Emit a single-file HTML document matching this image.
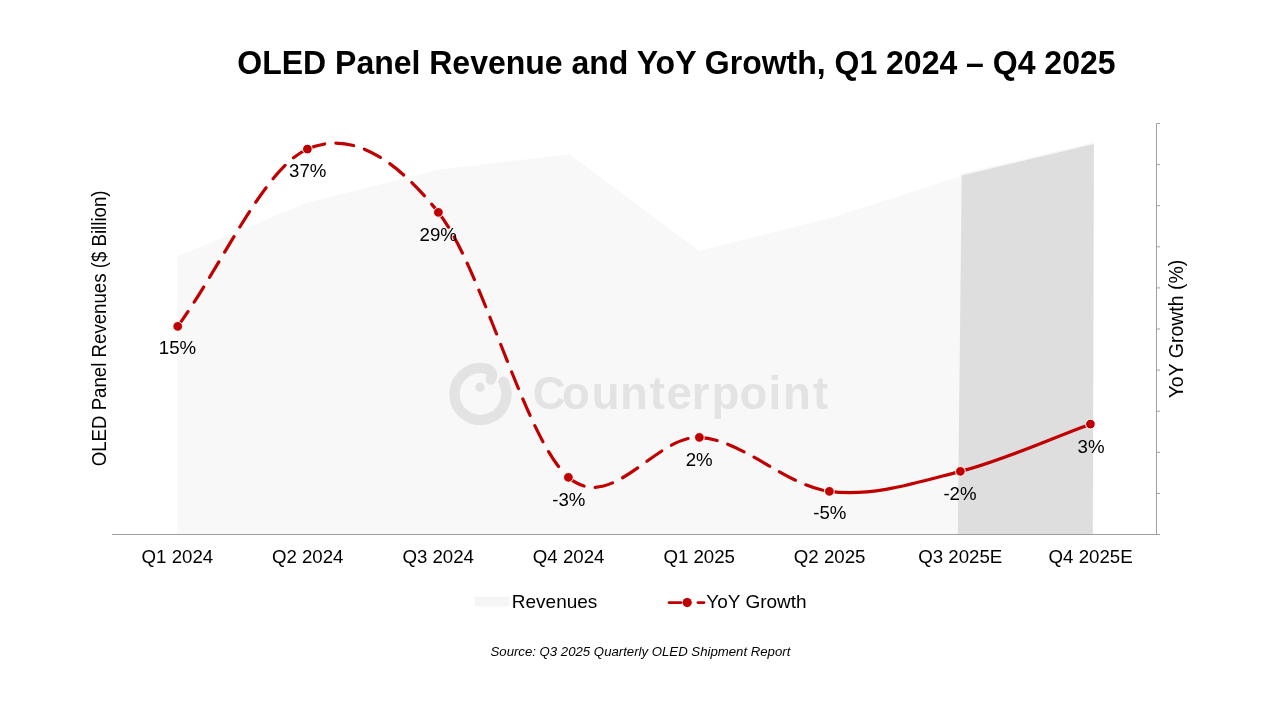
<!DOCTYPE html>
<html><head><meta charset="utf-8">
<style>
html,body{margin:0;padding:0;background:#fff;width:1280px;height:720px;overflow:hidden}
svg{display:block;will-change:transform}
text{font-family:"Liberation Sans",sans-serif;fill:#000}
</style></head>
<body>
<svg width="1280" height="720" viewBox="0 0 1280 720">
<!-- title -->
<text transform="translate(676.4,73.8) scale(1,1.052)" font-size="32" font-weight="bold" text-anchor="middle">OLED Panel Revenue and YoY Growth, Q1 2024 – Q4 2025</text>
<!-- revenue area -->
<polygon fill="#f8f8f8" points="177.2,534.5 177.2,256.5 307.5,202.5 437.5,170 569.2,154.3 699.5,251 829.4,218.5 959.8,176.6 960.6,173.6 1093.9,142.4 1092.8,534.5"/>
<polygon fill="#dedede" points="957.8,534.5 961.7,175.5 1093.9,144 1092.8,534.5"/>
<!-- watermark -->
<g>
<path d="M503.4,381.8 A26,26 0 1 1 484.9,368.4 Q495,371 490.8,379.5" fill="none" stroke="#e3e3e3" stroke-width="10.4" stroke-linecap="round"/>
<circle cx="479.9" cy="387.3" r="4.7" fill="#e3e3e3"/>
<text x="532.8 561.9 591.8 619.9 649.7 666.6 691.8 711.5 739.6 768.5 782.9 813" y="409.4" font-size="45.5" font-weight="bold" style="fill:#e3e3e3">Counterpoint</text>
</g>
<!-- axes -->
<line x1="112" y1="534.5" x2="1160" y2="534.5" stroke="#a0a0a0" stroke-width="1"/>
<line x1="1156.5" y1="123.5" x2="1156.5" y2="534.5" stroke="#a0a0a0" stroke-width="1"/>
<g stroke="#a0a0a0" stroke-width="1"><line x1="1156.5" y1="123.5" x2="1160" y2="123.5"/><line x1="1156.5" y1="164.6" x2="1160" y2="164.6"/><line x1="1156.5" y1="205.7" x2="1160" y2="205.7"/><line x1="1156.5" y1="246.8" x2="1160" y2="246.8"/><line x1="1156.5" y1="287.9" x2="1160" y2="287.9"/><line x1="1156.5" y1="329.0" x2="1160" y2="329.0"/><line x1="1156.5" y1="370.1" x2="1160" y2="370.1"/><line x1="1156.5" y1="411.2" x2="1160" y2="411.2"/><line x1="1156.5" y1="452.3" x2="1160" y2="452.3"/><line x1="1156.5" y1="493.4" x2="1160" y2="493.4"/><line x1="1156.5" y1="534.5" x2="1160" y2="534.5"/></g>
<!-- yoy line -->
<g fill="none" stroke="#c00000" stroke-width="3.2" stroke-dasharray="18 11.3" stroke-linecap="round">
<path d="M177.7,326.4 C220.93,267.30 263.95,168.10 307.4,149.1"/>
<path d="M307.4,149.1 C350.85,130.10 394.90,157.70 438.4,212.4"/>
<path d="M438.4,212.4 C481.90,267.10 524.90,439.80 568.4,477.3"/>
<path d="M568.4,477.3 C611.90,514.80 655.90,435.05 699.4,437.4"/>
<path d="M699.4,437.4 C742.90,439.75 785.90,485.73 829.4,491.4"/>
</g>
<path d="M829.4,491.4 C872.90,497.07 916.90,482.60 960.4,471.4 C1003.90,460.20 1047.07,439.93 1090.4,424.2" fill="none" stroke="#c00000" stroke-width="3.2"/>
<g fill="#c00000" stroke="#fff" stroke-width="1">
<circle cx="177.7" cy="326.4" r="4.85"/>
<circle cx="307.4" cy="149.1" r="4.85"/>
<circle cx="438.4" cy="212.4" r="4.85"/>
<circle cx="568.4" cy="477.4" r="4.85"/>
<circle cx="699.4" cy="437.4" r="4.85"/>
<circle cx="829.4" cy="491.4" r="4.85"/>
<circle cx="960.4" cy="471.4" r="4.85"/>
<circle cx="1090.4" cy="424.1" r="4.85"/>
</g>
<!-- data labels -->
<g font-size="18.67" text-anchor="middle">
<text transform="translate(177.5,353.6) scale(1,1.03)">15%</text>
<text transform="translate(307.7,177) scale(1,1.03)">37%</text>
<text transform="translate(438.2,240.9) scale(1,1.03)">29%</text>
<text transform="translate(568.8,505.8) scale(1,1.03)">-3%</text>
<text transform="translate(699.2,465.9) scale(1,1.03)">2%</text>
<text transform="translate(829.8,519) scale(1,1.03)">-5%</text>
<text transform="translate(960,499.7) scale(1,1.03)">-2%</text>
<text transform="translate(1091,452.8) scale(1,1.03)">3%</text>
</g>
<!-- x labels -->
<g font-size="18.67" text-anchor="middle">
<text transform="translate(177.4,562.5) scale(1,1.03)">Q1 2024</text>
<text transform="translate(307.7,562.5) scale(1,1.03)">Q2 2024</text>
<text transform="translate(438.2,562.5) scale(1,1.03)">Q3 2024</text>
<text transform="translate(568.6,562.5) scale(1,1.03)">Q4 2024</text>
<text transform="translate(699.2,562.5) scale(1,1.03)">Q1 2025</text>
<text transform="translate(829.6,562.5) scale(1,1.03)">Q2 2025</text>
<text transform="translate(960.2,562.5) scale(1,1.03)">Q3 2025E</text>
<text transform="translate(1090.6,562.5) scale(1,1.03)">Q4 2025E</text>
</g>
<!-- axis titles -->
<text transform="translate(106.1,328.4) rotate(-90) scale(1,1.04)" font-size="18.67" text-anchor="middle">OLED Panel Revenues ($ Billion)</text>
<text transform="translate(1183.1,329) rotate(-90)" font-size="19.5" text-anchor="middle">YoY Growth (%)</text>
<!-- legend -->
<rect x="474.8" y="596.8" width="34.5" height="9.6" fill="#f5f5f5"/>
<text x="511.8" y="608.2" font-size="19">Revenues</text>
<line x1="669" y1="602.6" x2="681" y2="602.6" stroke="#c00000" stroke-width="2.8" stroke-linecap="round"/>
<line x1="698" y1="602.6" x2="704" y2="602.6" stroke="#c00000" stroke-width="2.8" stroke-linecap="round"/>
<circle cx="687.2" cy="602.6" r="4.6" fill="#c00000"/>
<text x="706.3" y="607.6" font-size="19">YoY Growth</text>
<!-- source -->
<text x="640.4" y="655.9" font-size="13.2" font-style="italic" text-anchor="middle">Source: Q3 2025 Quarterly OLED Shipment Report</text>
</svg>
</body></html>
